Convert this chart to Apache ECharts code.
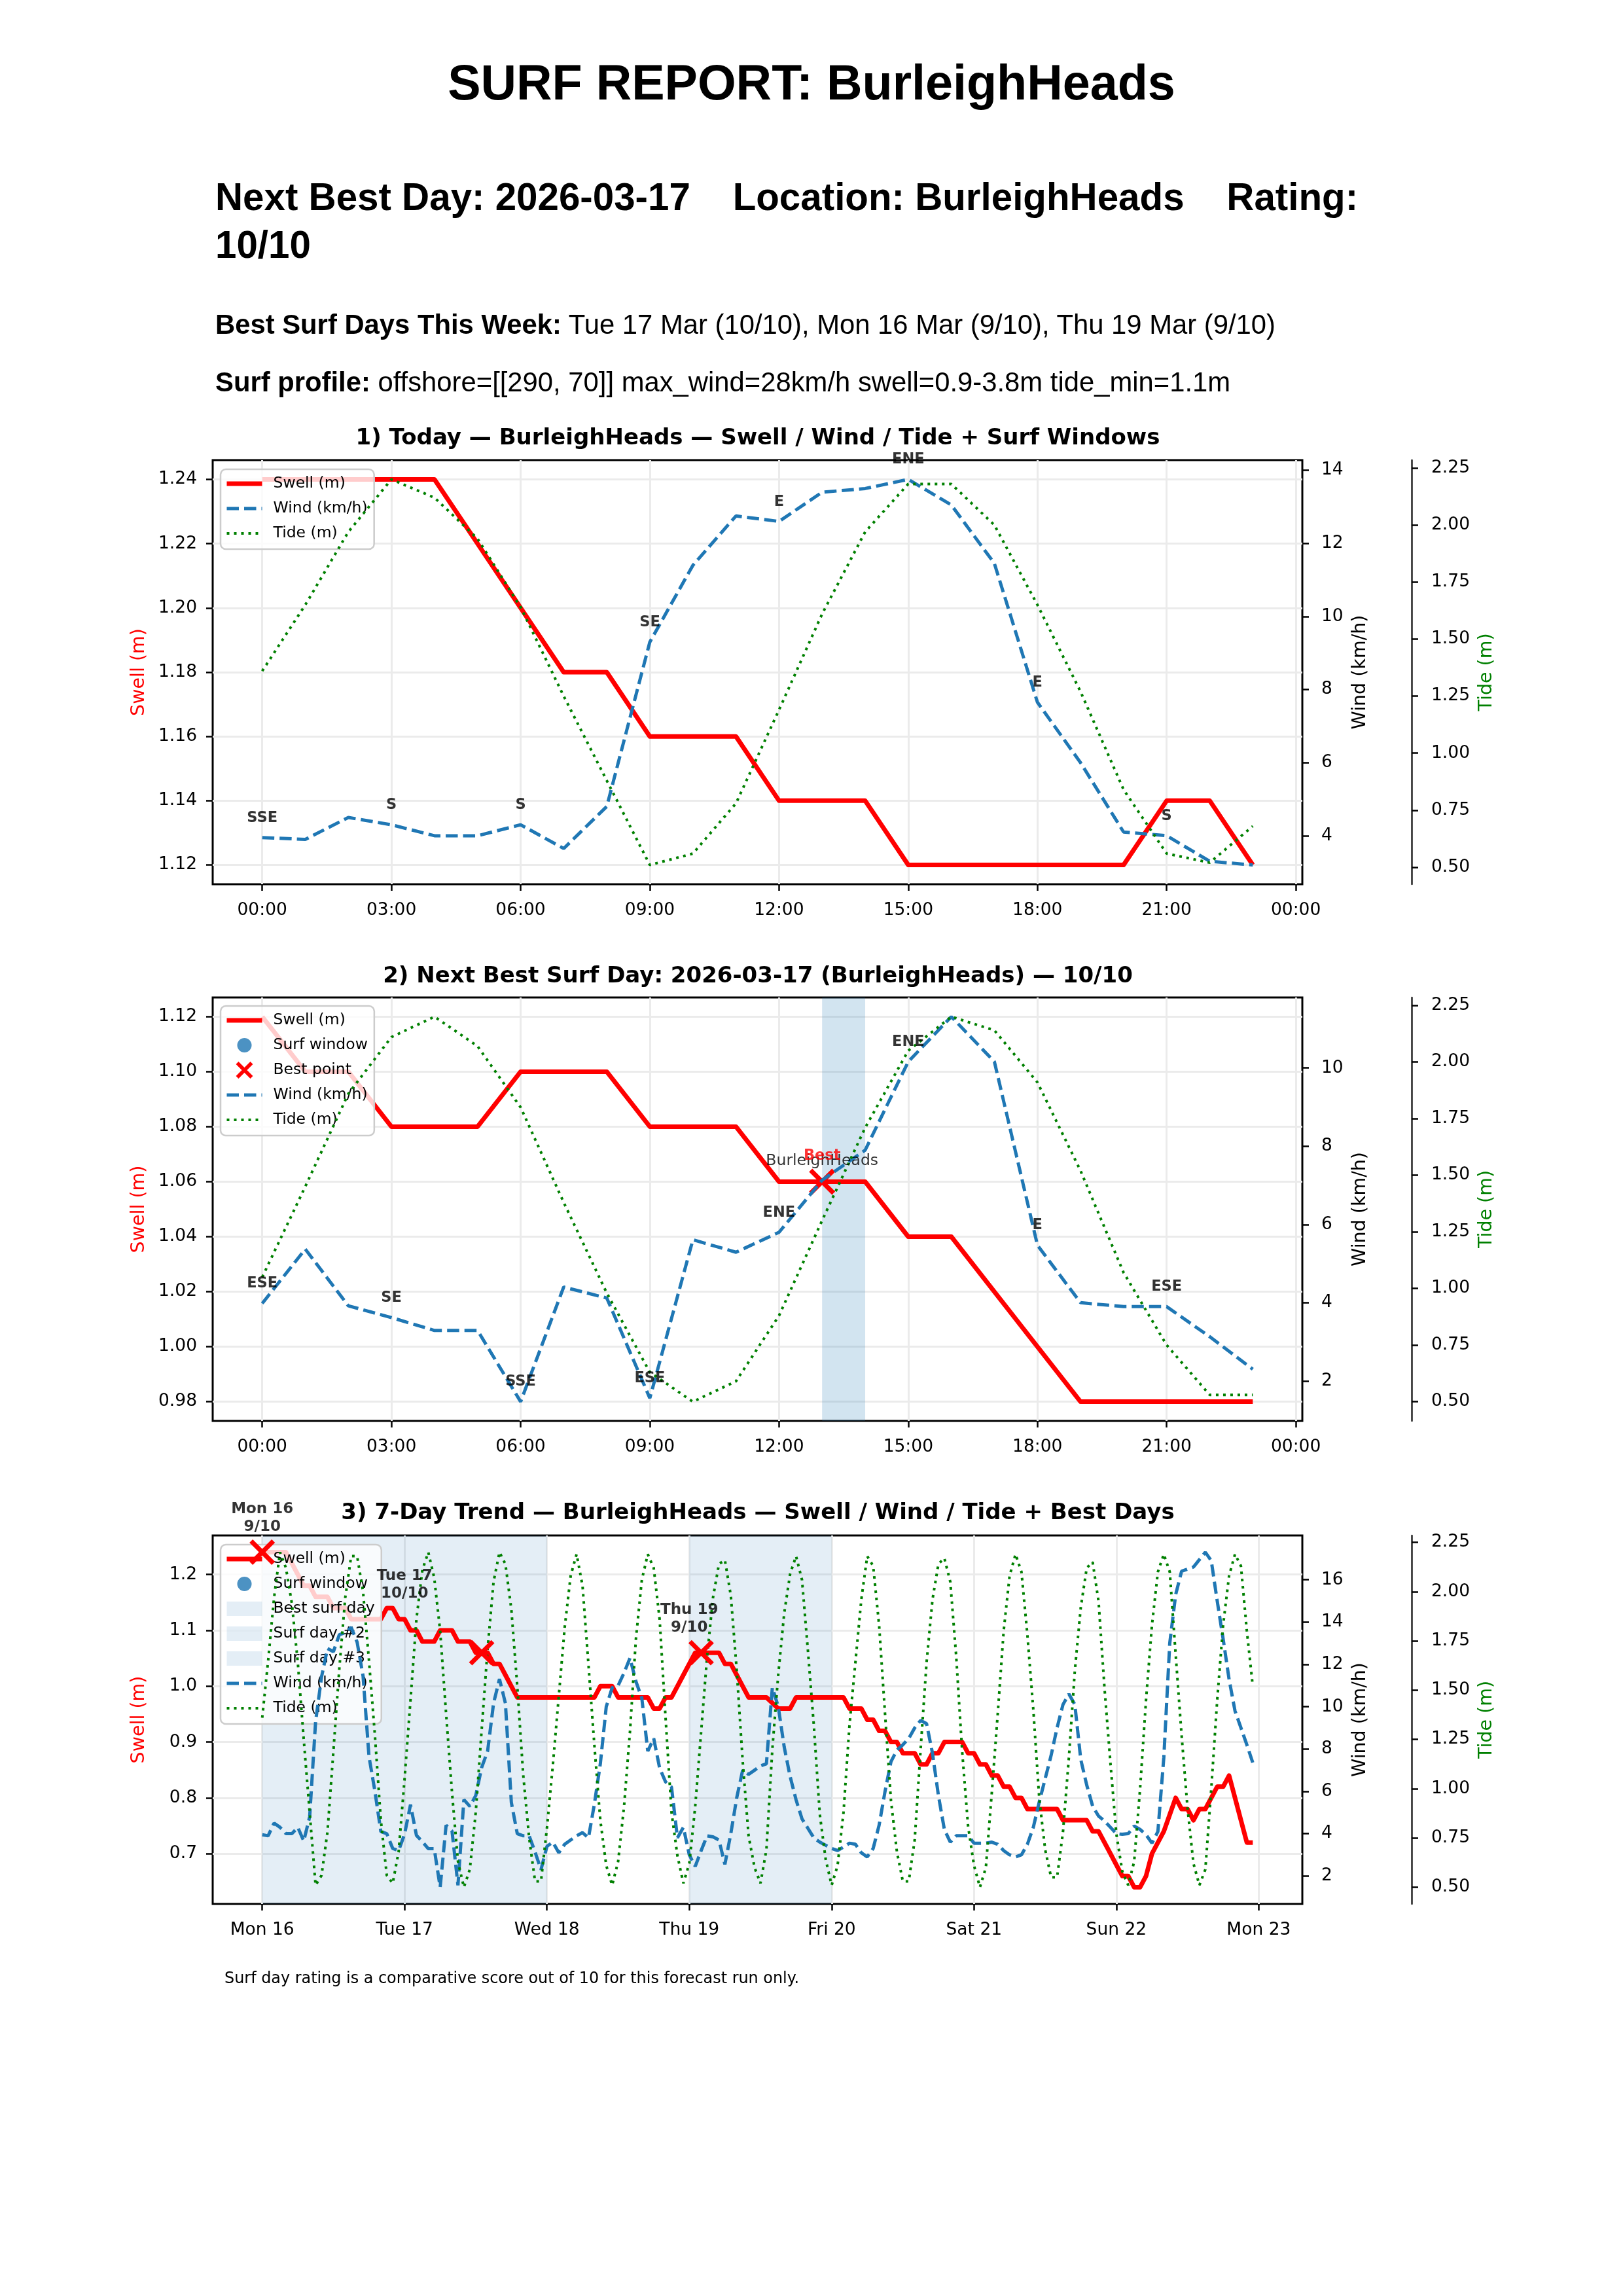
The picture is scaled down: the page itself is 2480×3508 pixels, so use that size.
<!DOCTYPE html>
<html><head><meta charset="utf-8">
<script src="https://cdn.jsdelivr.net/npm/echarts@6/dist/echarts.min.js"></script>
<style>
html,body{margin:0;padding:0;background:#fff;}
#wrap{position:relative;width:2480px;height:3508px;overflow:hidden;background:#fff;}
#chart{position:absolute;left:0;top:0;width:2480px;height:3508px;}
.hd{position:absolute;font-family:"Liberation Sans",Arial,Helvetica,sans-serif;white-space:pre;color:#000;}
.foot{position:absolute;font-family:"DejaVu Sans",sans-serif;white-space:pre;color:#000;}
</style></head><body>
<div id="wrap">
<div id="chart"></div>
<div class="hd" style="left:0;width:2480px;text-align:center;top:84px;font-size:75.5px;line-height:85px;font-weight:bold;">SURF REPORT: BurleighHeads</div>
<div class="hd" style="left:329px;top:264px;font-size:58.3px;line-height:73px;font-weight:bold;">Next Best Day: 2026-03-17    Location: BurleighHeads    Rating:
10/10</div>
<div class="hd" style="left:329px;top:472px;font-size:41.8px;line-height:48px;"><b>Best Surf Days This Week:</b> Tue 17 Mar (10/10), Mon 16 Mar (9/10), Thu 19 Mar (9/10)</div>
<div class="hd" style="left:329px;top:560px;font-size:41.8px;line-height:48px;"><b>Surf profile:</b> offshore=[[290, 70]] max_wind=28km/h swell=0.9-3.8m tide_min=1.1m</div>
<div class="foot" style="left:343px;top:3007px;font-size:23.9px;line-height:30px;">Surf day rating is a comparative score out of 10 for this forecast run only.</div>
</div>
<script>
// ================= DATA =================
// 1) Today (Mon 16), hourly 00:00..23:00
const todaySwell = [1.24,1.24,1.24,1.24,1.24,1.22,1.20,1.18,1.18,1.16,1.16,1.16,1.14,1.14,1.14,1.12,1.12,1.12,1.12,1.12,1.12,1.14,1.14,1.12];
const todayWind  = [3.95,3.9,4.5,4.3,4.0,4.0,4.3,3.65,4.8,9.3,11.4,12.75,12.6,13.4,13.5,13.75,13.05,11.45,7.65,6.0,4.1,4.0,3.3,3.2];
const todayTide  = [1.36,1.65,1.97,2.20,2.12,1.94,1.64,1.25,0.88,0.51,0.56,0.78,1.19,1.61,1.97,2.18,2.18,2.00,1.65,1.27,0.84,0.56,0.52,0.68];
const todayDirHours  = [0,3,6,9,12,15,18,21];
const todayDirLabels = ['SSE','S','S','SE','E','ENE','E','S'];

// 2) Next best surf day (Tue 17), hourly
const bestSwell = [1.12,1.10,1.10,1.08,1.08,1.08,1.10,1.10,1.10,1.08,1.08,1.08,1.06,1.06,1.06,1.04,1.04,1.02,1.00,0.98,0.98,0.98,0.98,0.98];
const bestWind  = [3.98,5.37,3.92,3.62,3.29,3.29,1.47,4.40,4.12,1.56,5.61,5.29,5.80,7.13,7.90,10.16,11.31,10.16,5.47,4.00,3.90,3.90,3.13,2.30];
const bestTide  = [1.05,1.45,1.86,2.11,2.20,2.07,1.80,1.38,0.98,0.63,0.50,0.59,0.88,1.30,1.71,2.05,2.20,2.14,1.91,1.52,1.07,0.75,0.53,0.53];
const bestDirHours  = [0,3,6,9,12,15,18,21];
const bestDirLabels = ['ESE','SE','SSE','ESE','ENE','ENE','E','ESE'];
const bestWindow = [[13,14]];
const bestHour = 13;
const spotName = 'BurleighHeads';

// 3) Remaining days Wed 18 00:00 .. Sun 22 23:00, hourly
const laterSwell = [0.98,0.98,0.98,0.98,0.98,0.98,0.98,0.98,0.98,1.00,1.00,1.00,0.98,0.98,0.98,0.98,0.98,0.98,0.96,0.96,0.98,0.98,1.00,1.02,1.04,1.06,1.06,1.06,1.06,1.06,1.04,1.04,1.02,1.00,0.98,0.98,0.98,0.98,0.97,0.96,0.96,0.96,0.98,0.98,0.98,0.98,0.98,0.98,0.98,0.98,0.98,0.96,0.96,0.96,0.94,0.94,0.92,0.92,0.90,0.90,0.88,0.88,0.88,0.86,0.86,0.88,0.88,0.90,0.90,0.90,0.90,0.88,0.88,0.86,0.86,0.84,0.84,0.82,0.82,0.80,0.80,0.78,0.78,0.78,0.78,0.78,0.78,0.76,0.76,0.76,0.76,0.76,0.74,0.74,0.72,0.70,0.68,0.66,0.66,0.64,0.64,0.66,0.70,0.72,0.74,0.77,0.80,0.78,0.78,0.76,0.78,0.78,0.80,0.82,0.82,0.84,0.80,0.76,0.72,0.72];
const laterWind = [3.4,3.6,3.1,3.5,3.7,3.9,4.05,3.8,5.4,7.3,10.0,10.9,11.0,11.6,12.3,11.2,10.4,7.9,8.5,7.1,6.45,6.2,3.8,4.3,3.0,2.45,3.2,3.9,3.85,3.7,2.55,4.0,5.7,7.0,6.8,7.0,7.2,7.3,10.9,10.0,8.1,6.7,5.6,4.7,4.25,3.8,3.6,3.45,3.3,3.2,3.37,3.55,3.5,3.1,2.9,3.3,4.4,6.0,7.4,7.95,8.2,8.5,9.0,9.35,9.2,7.8,5.8,4.2,3.6,3.9,3.9,3.9,3.55,3.55,3.55,3.6,3.5,3.2,3.0,2.9,3.0,3.5,4.3,5.5,6.6,7.7,9.0,10.1,10.6,10.1,7.5,6.3,5.3,4.83,4.6,4.3,4.0,3.97,4.0,4.36,4.2,3.95,3.55,4.1,7.6,13.0,15.3,16.4,16.5,16.6,16.95,17.3,16.9,15.0,13.2,11.3,9.8,9.0,8.2,7.35];
const laterTide = [0.80,1.12,1.47,1.82,2.08,2.19,2.03,1.63,1.22,0.84,0.61,0.51,0.63,0.91,1.29,1.76,2.06,2.19,2.12,1.86,1.36,0.88,0.66,0.52,0.62,0.91,1.29,1.67,1.97,2.14,2.16,1.98,1.60,1.14,0.76,0.60,0.52,0.69,1.20,1.58,1.89,2.09,2.18,2.06,1.70,1.32,0.87,0.64,0.51,0.61,0.88,1.32,1.64,1.96,2.18,2.13,1.83,1.38,0.94,0.68,0.53,0.53,0.74,1.20,1.64,1.96,2.14,2.17,2.05,1.67,1.19,0.81,0.61,0.50,0.60,0.98,1.38,1.80,2.08,2.19,2.10,1.78,1.40,0.95,0.69,0.55,0.55,0.78,1.16,1.60,1.92,2.12,2.15,1.95,1.51,1.13,0.77,0.58,0.51,0.63,1.00,1.45,1.83,2.10,2.19,2.10,1.68,1.27,0.90,0.62,0.51,0.59,1.00,1.45,1.83,2.08,2.19,2.13,1.80,1.52];

const weekSwell = todaySwell.concat(bestSwell, laterSwell);
const weekWind  = todayWind.concat(bestWind, laterWind);
const weekTide  = todayTide.concat(bestTide, laterTide);
const weekBestHours = [0, 37, 74];
const weekBands = [
  {name:'Best surf day', start:24, end:48},
  {name:'Surf day #2',   start:0,  end:24},
  {name:'Surf day #3',   start:72, end:96}
];
const weekDayNotes = [
  {dayStart:0,  text:'Mon 16\n9/10'},
  {dayStart:24, text:'Tue 17\n10/10'},
  {dayStart:72, text:'Thu 19\n9/10'}
];

// tick values and labels
const hourTicks = [0,3,6,9,12,15,18,21,24];
const hourTickLabels = ['00:00','03:00','06:00','09:00','12:00','15:00','18:00','21:00','00:00'];
const dayTicks = [0,24,48,72,96,120,144,168];
const dayTickLabels = ['Mon 16','Tue 17','Wed 18','Thu 19','Fri 20','Sat 21','Sun 22','Mon 23'];
const swellTicks1 = [1.12,1.14,1.16,1.18,1.20,1.22,1.24];
const swellTicks2 = [0.98,1.00,1.02,1.04,1.06,1.08,1.10,1.12];
const swellTicks3 = [0.7,0.8,0.9,1.0,1.1,1.2];
const windTicks1 = [4,6,8,10,12,14];
const windTicks2 = [2,4,6,8,10];
const windTicks3 = [2,4,6,8,10,12,14,16];
const tideTicks = [0.50,0.75,1.00,1.25,1.50,1.75,2.00,2.25];

// ================= STYLE / LAYOUT =================
const FONT = 'DejaVu Sans';
const RED = '#ff0000', BLUE = '#1f77b4', GREEN = '#008000';
const GRIDS = [
  {left:325, top:703,  width:1665, height:648},
  {left:325, top:1524, width:1665, height:647},
  {left:325, top:2346, width:1665, height:563}
];
const TITLES = [
  '1) Today \u2014 BurleighHeads \u2014 Swell / Wind / Tide + Surf Windows',
  '2) Next Best Surf Day: 2026-03-17 (BurleighHeads) \u2014 10/10',
  '3) 7-Day Trend \u2014 BurleighHeads \u2014 Swell / Wind / Tide + Best Days'
];
const TITLE_Y = [670, 1492, 2312];
const X_CROSS = 'path://M0,0L10,10M10,0L0,10';
const SWELL_W = 7, WIND_W = 5, TIDE_W = 4;
const WIND_DASH = [18.5, 8], TIDE_DASH = [4, 7];

function pad(arr){ const mn=Math.min(...arr), mx=Math.max(...arr), r=mx-mn; return {min:mn-0.05*r, max:mx+0.05*r}; }
function idxData(arr){ return arr.map((v,i)=>[i,v]); }

function xAxisFor(gi, n, ticks, labels){
  const e = pad([0, n-1]);
  return {type:'value', gridIndex:gi, min:e.min, max:e.max,
    axisLine:{show:false, onZero:false},
    axisTick:{show:true, customValues:ticks, length:10, lineStyle:{color:'#000', width:2.5}},
    axisLabel:{show:true, customValues:ticks, margin:27, fontSize:26.5, fontFamily:FONT, color:'#000',
      formatter:(v)=>{ const k=ticks.indexOf(v); return k>=0?labels[k]:''; }},
    splitLine:{show:true, lineStyle:{color:'#ebebeb', width:3}}};
}
function yAxisFor(gi, ext, ticks, dec, opt){
  return Object.assign({type:'value', gridIndex:gi, min:ext.min, max:ext.max,
    axisLine:{show:false, onZero:false},
    axisTick:{show:true, customValues:ticks, length:10, lineStyle:{color:'#000', width:2.5}},
    axisLabel:{show:true, customValues:ticks, margin:24, fontSize:26.5, fontFamily:FONT, color:'#000',
      formatter:(v)=>v.toFixed(dec)},
    splitLine:{show:false},
    nameLocation:'middle', nameRotate:90,
    nameTextStyle:{fontSize:28.5, fontFamily:FONT}}, opt);
}
function lab(dec, margin){ return {show:true, margin:margin, fontSize:26.5, fontFamily:FONT, color:'#000', formatter:(v)=>v.toFixed(dec)}; }

const xAxes = [
  xAxisFor(0, todaySwell.length, hourTicks, hourTickLabels),
  xAxisFor(1, bestSwell.length, hourTicks, hourTickLabels),
  xAxisFor(2, weekSwell.length, dayTicks, dayTickLabels)
];
function threeY(gi, swell, wind, tide, sT, sDec, wT){
  return [
    yAxisFor(gi, pad(swell), sT, sDec, {position:'left', name:'Swell (m)', nameGap:98,
      nameTextStyle:{fontSize:28.5, fontFamily:FONT, color:RED},
      splitLine:{show:true, lineStyle:{color:'#ebebeb', width:3}}}),
    yAxisFor(gi, pad(wind), wT, 0, {position:'right', name:'Wind (km/h)', nameGap:72,
      axisLabel:Object.assign(lab(0, 29), {customValues:wT}),
      nameTextStyle:{fontSize:28.5, fontFamily:FONT, color:'#000'}}),
    yAxisFor(gi, pad(tide), tideTicks, 2, {position:'right', offset:167, name:'Tide (m)', nameGap:97,
      axisLabel:Object.assign(lab(2, 30), {customValues:tideTicks}),
      axisLine:{show:true, onZero:false, lineStyle:{color:'#222', width:2.5}},
      nameTextStyle:{fontSize:28.5, fontFamily:FONT, color:GREEN}})
  ];
}
const yAxes = [].concat(
  threeY(0, todaySwell, todayWind, todayTide, swellTicks1, 2, windTicks1),
  threeY(1, bestSwell, bestWind, bestTide, swellTicks2, 2, windTicks2),
  threeY(2, weekSwell, weekWind, weekTide, swellTicks3, 1, windTicks3)
);

function swellSeries(xi, yi, arr){ return {name:'Swell (m)', type:'line', xAxisIndex:xi, yAxisIndex:yi, data:idxData(arr),
  symbol:'none', z:2, silent:true, lineStyle:{color:RED, width:SWELL_W, join:'round'}, itemStyle:{color:RED}}; }
function windSeries(xi, yi, arr){ return {name:'Wind (km/h)', type:'line', xAxisIndex:xi, yAxisIndex:yi, data:idxData(arr),
  symbol:'none', z:5, silent:true, lineStyle:{color:BLUE, width:WIND_W, type:WIND_DASH, cap:'butt'}, itemStyle:{color:BLUE}}; }
function tideSeries(xi, yi, arr){ return {name:'Tide (m)', type:'line', xAxisIndex:xi, yAxisIndex:yi, data:idxData(arr),
  symbol:'none', z:5, silent:true, lineStyle:{color:GREEN, width:TIDE_W, type:TIDE_DASH, cap:'butt'}, itemStyle:{color:GREEN}}; }
function dirSeries(xi, yi, hours, windArr, labels){
  return {type:'scatter', xAxisIndex:xi, yAxisIndex:yi, data:hours.map(h=>[h, windArr[h]]), symbolSize:1, z:6, silent:true,
    itemStyle:{color:'rgba(0,0,0,0)'},
    label:{show:true, position:'inside', offset:[0,-30], fontFamily:FONT, fontWeight:'bold', fontSize:22.5, color:'#000',
      formatter:(p)=>labels[p.dataIndex]}};
}
function bandSeries(name, xi, yi, ranges, color){
  return {name:name, type:'custom', xAxisIndex:xi, yAxisIndex:yi, data:ranges, z:1, silent:true,
    itemStyle:{color:color},
    renderItem:(params, api)=>{
      const a = api.coord([api.value(0), 0]), b = api.coord([api.value(1), 0]);
      const cs = params.coordSys;
      return {type:'rect', shape:{x:a[0], y:cs.y, width:b[0]-a[0], height:cs.height}, style:{fill:color}};
    }};
}
function crossSeries(name, xi, yi, pts, size, lw, z){
  return {name:name, type:'custom', xAxisIndex:xi, yAxisIndex:yi, data:pts, z:z, silent:true,
    itemStyle:{color:RED},
    renderItem:(params, api)=>{
      const p = api.coord([api.value(0), api.value(1)]);
      const h = size/2;
      return {type:'group', children:[
        {type:'line', shape:{x1:p[0]-h, y1:p[1]-h, x2:p[0]+h, y2:p[1]+h}, style:{stroke:RED, lineWidth:lw, lineCap:'butt'}},
        {type:'line', shape:{x1:p[0]-h, y1:p[1]+h, x2:p[0]+h, y2:p[1]-h}, style:{stroke:RED, lineWidth:lw, lineCap:'butt'}}
      ]};
    }};
}

const series = [
  // chart 1
  swellSeries(0,0,todaySwell), windSeries(0,1,todayWind), tideSeries(0,2,todayTide),
  dirSeries(0,1,todayDirHours,todayWind,todayDirLabels),
  // chart 2
  bandSeries('window', 1,3, bestWindow, 'rgba(31,119,180,0.2)'),
  swellSeries(1,3,bestSwell),
  {name:'Surf window', type:'scatter', xAxisIndex:1, yAxisIndex:3, data:[], symbol:'circle', symbolSize:18, itemStyle:{color:BLUE}},
  crossSeries('Best point', 1, 3, [[bestHour, bestSwell[bestHour]]], 35, 7, 3),
  windSeries(1,4,bestWind), tideSeries(1,5,bestTide),
  dirSeries(1,4,bestDirHours,bestWind,bestDirLabels),
  {type:'scatter', xAxisIndex:1, yAxisIndex:3, data:[[bestHour, bestSwell[bestHour]]], symbolSize:1, z:6, silent:true,
    itemStyle:{color:'rgba(0,0,0,0)'},
    label:{show:true, position:'inside', offset:[0,-32], fontFamily:FONT, fontSize:23.5, color:'#000', formatter:()=>spotName}},
  {type:'scatter', xAxisIndex:1, yAxisIndex:3, data:[[bestHour, bestSwell[bestHour]]], symbolSize:1, z:7, silent:true,
    itemStyle:{color:'rgba(0,0,0,0)'},
    label:{show:true, position:'inside', offset:[0,-39], fontFamily:FONT, fontWeight:'bold', fontSize:22.5, color:RED, formatter:()=>'Best'}},
  // chart 3
  ...weekBands.map(b=>bandSeries(b.name, 2,6, [[b.start,b.end]], 'rgba(31,119,180,0.12)')),
  swellSeries(2,6,weekSwell),
  {name:'Surf window', type:'scatter', xAxisIndex:2, yAxisIndex:6, data:[], symbol:'circle', symbolSize:18, itemStyle:{color:BLUE}},
  windSeries(2,7,weekWind), tideSeries(2,8,weekTide),
  crossSeries('best-days', 2, 6, weekBestHours.map(h=>[h, weekSwell[h]]), 34, 7, 6),
  {type:'scatter', xAxisIndex:2, yAxisIndex:6,
    data:weekDayNotes.map(d=>[d.dayStart, Math.max(...weekSwell.slice(d.dayStart, d.dayStart+24))]),
    symbolSize:1, z:7, silent:true, itemStyle:{color:'rgba(0,0,0,0)'},
    label:{show:true, position:'inside', offset:[0,-52], fontFamily:FONT, fontWeight:'bold', fontSize:23, lineHeight:27, color:'#000', align:'center',
      formatter:(p)=>weekDayNotes[p.dataIndex].text}}
];

const legendBase = {orient:'vertical', left:337, itemWidth:54, itemHeight:22, itemGap:10, padding:[8,10,10,6],
  backgroundColor:'rgba(255,255,255,0.8)', borderColor:'#cccccc', borderWidth:2.5, borderRadius:8, selectedMode:false, z:3,
  textStyle:{fontFamily:FONT, fontSize:23.5, color:'#000', lineHeight:28, padding:[0,0,0,12]}};
const bandLegendColor = 'rgba(31,119,180,0.12)';
const L_SWELL = {name:'Swell (m)', itemStyle:{opacity:0}, lineStyle:{width:SWELL_W}};
const L_WIND  = {name:'Wind (km/h)', itemStyle:{opacity:0}, lineStyle:{width:WIND_W, type:WIND_DASH}};
const L_TIDE  = {name:'Tide (m)', itemStyle:{opacity:0}, lineStyle:{width:TIDE_W, type:TIDE_DASH}};
const L_BEST  = {name:'Best point', icon:X_CROSS, itemStyle:{color:'rgba(0,0,0,0)', borderColor:RED, borderWidth:5.5}};
const legends = [
  Object.assign({}, legendBase, {top:717, data:[L_SWELL, L_WIND, L_TIDE]}),
  Object.assign({}, legendBase, {top:1537, data:[L_SWELL,'Surf window', L_BEST, L_WIND, L_TIDE]}),
  Object.assign({}, legendBase, {top:2360, data:[L_SWELL,'Surf window',
    {name:'Best surf day', icon:'rect', itemStyle:{color:bandLegendColor}},
    {name:'Surf day #2', icon:'rect', itemStyle:{color:bandLegendColor}},
    {name:'Surf day #3', icon:'rect', itemStyle:{color:bandLegendColor}},
    L_WIND, L_TIDE]})
];

const graphics = TITLES.map((t,i)=>({type:'text', x:1158, y:TITLE_Y[i], silent:true, z:10,
  style:{text:t, font:'bold 34px "DejaVu Sans"', fill:'#000', textAlign:'center', align:'center', textVerticalAlign:'middle', verticalAlign:'middle'}}));

const chart = echarts.init(document.getElementById('chart'), null, {renderer:'canvas', width:2480, height:3508});
chart.setOption({
  animation:false,
  backgroundColor:'transparent',
  grid: GRIDS.map(g=>Object.assign({show:true, borderColor:'#000', borderWidth:3, backgroundColor:'transparent', containLabel:false}, g)),
  xAxis: xAxes,
  yAxis: yAxes,
  legend: legends,
  graphic: graphics,
  series: series
});
</script>
</body></html>
